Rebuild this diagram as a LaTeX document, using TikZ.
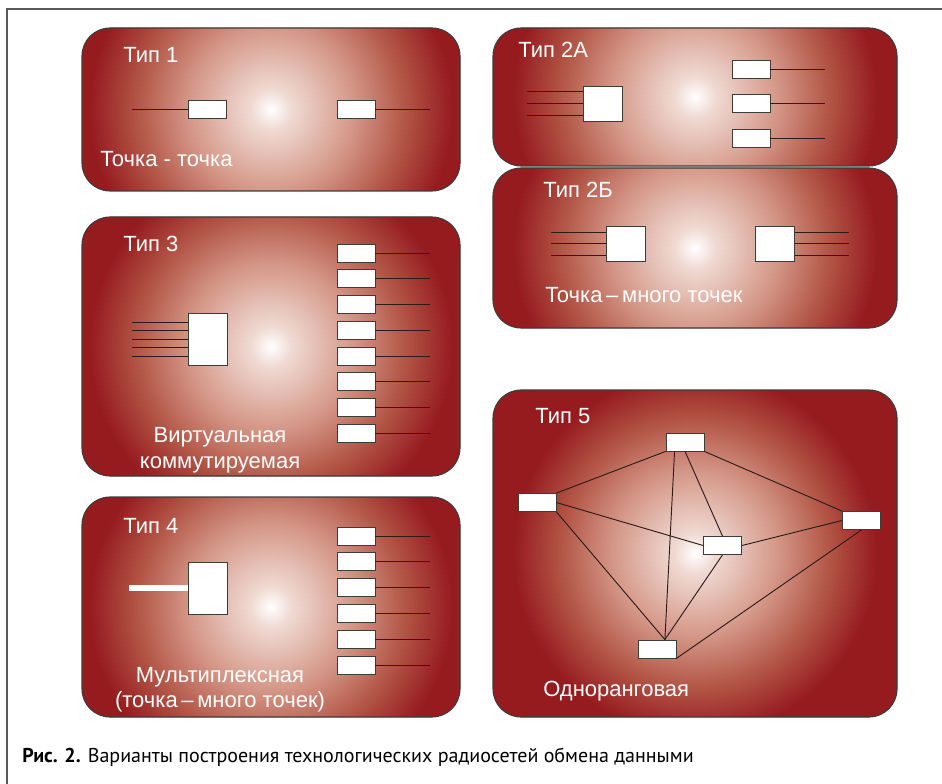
\documentclass[tikz,border=0pt]{standalone}
\usepackage{fontspec}
\setmainfont{Liberation Sans}
\newfontfamily\capfont{PT Sans}
\usepackage{xcolor}
\usetikzlibrary{calc}
\definecolor{panelred}{RGB}{150,27,31}
\definecolor{glowA}{RGB}{240,218,211}
\definecolor{glowB}{RGB}{212,150,134}
\definecolor{glowC}{RGB}{178,85,70}
\definecolor{wirecol}{RGB}{45,28,28}
\definecolor{edgecol}{RGB}{60,60,60}
\definecolor{framecol}{RGB}{90,90,90}
\pgfdeclareradialshading{panelglow}{\pgfpoint{0bp}{0bp}}{color(0bp)=(white); color(1.9bp)=(glowA); color(7.8bp)=(glowB); color(12.6bp)=(glowC); color(17bp)=(panelred); color(50bp)=(panelred)}
\tikzset{
  panel/.style={fill=panelred, draw=edgecol, line width=0.8pt, rounded corners=21pt,
    path picture={\shade[shading=panelglow] (path picture bounding box.center) circle (200pt);}},
  unit/.style={draw=edgecol, fill=white, line width=0.6pt, inner sep=0pt,
    minimum width=28.5pt, minimum height=13.5pt},
  hub/.style={unit, minimum width=29.25pt, minimum height=26.25pt},
  bighub/.style={unit, minimum width=29.25pt, minimum height=39pt},
  wire/.style={draw=wirecol, line width=0.7pt},
  title/.style={text=white, font=\fontsize{16.5}{19}\selectfont, inner sep=0pt, anchor=base west},
  subtitle/.style={title, anchor=base}
}

\begin{document}
\begin{tikzpicture}[x=0.75pt,y=-0.75pt]
\useasboundingbox (0,0) rectangle (942,784);
\draw[framecol, line width=1pt] (7,784) -- (7,9) -- (942,9);

% panels
\path[panel] (82,28) rectangle (460,191);
\path[panel] (82,217) rectangle (460,476);
\path[panel] (82,497) rectangle (460,717);
\path[panel] (493,28) rectangle (897,166);
\path[panel] (493,168) rectangle (897,328);
\path[panel] (493,390) rectangle (897,717);

% type 1
\node[title] (t1) at (123,63) {Тип 1};
\node[unit] (t1a) at (207,109) {};
\node[unit] (t1b) at (356,109) {};
\draw[wire] (t1a.west) -- ++(-56,0);
\draw[wire] (t1b.east) -- ++(55,0);
\node[title] (t1txt) at (100,167) {Точка - точка};

% type 2A
\node[title] (t2a) at (518,58) {Тип 2А};
\node[hub] (t2ahub) at (602.5,103.5) {};
\foreach \dy in {-12,0,12}
  \draw[wire] ($(t2ahub.west)+(0,\dy)$) -- ++(-56,0);
\foreach \k in {0,1,2} {
  \node[unit] (t2au\k) at (751,{69.5+34.3*\k}) {};
  \draw[wire] (t2au\k.east) -- ++(55,0);
}

% type 2B
\node[title] (t2b) at (543,198) {Тип 2Б};
\node[hub] (t2bl) at (626,243.5) {};
\node[hub] (t2br) at (775,243.5) {};
\foreach \dy in {-11.5,0,11.5} {
  \draw[wire] ($(t2bl.west)+(0,\dy)$) -- ++(-55,0);
  \draw[wire] ($(t2br.east)+(0,\dy)$) -- ++(54,0);
}
\node[title] (t2btxt) at (545,302) {Точка\,–\,много точек};

% type 3
\node[title] (t3) at (123,252) {Тип 3};
\node[bighub] (t3hub) at (207.5,339) {};
\foreach \dy in {-17,-8.5,0,8.5,17}
  \draw[wire] ($(t3hub.west)+(0,\dy)$) -- ++(-56,0);
\foreach \k in {0,...,7} {
  \node[unit] (t3u\k) at (356,{253+25.75*\k}) {};
  \draw[wire] (t3u\k.east) -- ++(55,0);
}
\node[subtitle] (t3txt) at (220,442) {Виртуальная};
\node[subtitle] (t3txtb) at (220,468) {коммутируемая};

% type 4
\node[title] (t4) at (123,533) {Тип 4};
\node[bighub] (t4hub) at (207.5,588) {};
\draw[white, line width=5pt] (t4hub.west) -- ++(-59,0);
\foreach \k in {0,...,5} {
  \node[unit] (t4u\k) at (356,{536+25.8*\k}) {};
  \draw[wire] (t4u\k.east) -- ++(55,0);
}
\node[subtitle] (t4txt) at (220,682) {Мультиплексная};
\node[subtitle] (t4txtb) at (220,707) {(точка\,–\,много точек)};

% type 5
\node[title] (t5) at (535,423) {Тип 5};
\node[unit] (p5a) at (685,442) {};
\node[unit] (p5b) at (537,502.5) {};
\node[unit] (p5c) at (722.5,545.5) {};
\node[unit] (p5d) at (861.5,520.5) {};
\node[unit] (p5e) at (657,649) {};
\draw[wire] (p5a.south west) -- (p5b.north east);
\draw[wire] (p5a.222) -- (p5e.50);
\draw[wire] (p5a.south) -- (p5c.north);
\draw[wire] (p5a.south east) -- (p5d.north west);
\draw[wire] (p5b.east) -- (p5c.west);
\draw[wire] (p5b.south east) -- (p5e.50);
\draw[wire] (p5c.south) -- (p5e.50);
\draw[wire] (p5c.east) -- (p5d.west);
\draw[wire] (p5d.south) -- (p5e.south east);
\node[title] (t5txt) at (543,696) {Одноранговая};

% caption
\node[anchor=base west, inner sep=0pt, font=\capfont\fontsize{15}{17}\selectfont] (cap) at (22,762)
  {\textbf{Рис. 2.} Варианты построения технологических радиосетей обмена данными};
\end{tikzpicture}
\end{document}
